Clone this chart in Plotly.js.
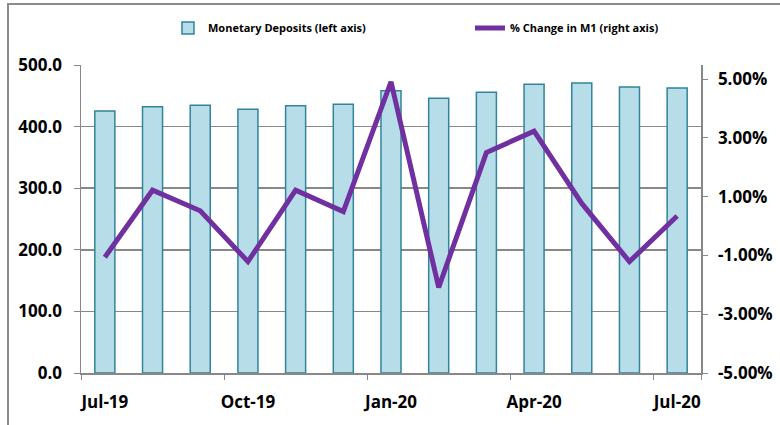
<!DOCTYPE html>
<html>
<head>
<meta charset="utf-8">
<script src="https://cdn.plot.ly/plotly-3.0.1.min.js"></script>
<style>
  body { margin: 0; background: #fff; }
  #frame { position: absolute; left: 7px; top: 3px; width: 800px; height: 440px;
           border-left: 2px solid #8c8c8c; border-top: 2px solid #8c8c8c; pointer-events: none; }
  #chart { position: absolute; left: 0; top: 0; width: 780px; height: 425px; }
</style>
</head>
<body>
<div id="chart"></div>
<div id="frame"></div>
<script>
// Months on the x axis
const months = ['Jul-19', 'Aug-19', 'Sep-19', 'Oct-19', 'Nov-19', 'Dec-19',
                'Jan-20', 'Feb-20', 'Mar-20', 'Apr-20', 'May-20', 'Jun-20', 'Jul-20'];

// Monetary deposits (left axis)
const deposits = [425.3, 432.3, 434.6, 428.1, 433.8, 436.2,
                  458.3, 445.9, 455.7, 468.7, 470.8, 464.3, 462.7];

// % change in M1 (right axis), in percent
const m1Change = [-1.06, 1.22, 0.52, -1.21, 1.22, 0.49,
                  4.91, -2.09, 2.50, 3.23, 0.77, -1.21, 0.34];

// Axis labels
const xTickVals = ['Jul-19', 'Oct-19', 'Jan-20', 'Apr-20', 'Jul-20'];
const rightTickVals = [-5, -3, -1, 1, 3, 5];
const rightTickText = ['-5.00%', '-3.00%', '-1.00%', '1.00%', '3.00%', '5.00%'];

const font = 'Open Sans, sans-serif';
const grey = '#888888';
const legendFont = { family: font, size: 11, color: '#000', weight: 'bold' };

const traces = [
    {
        x: months,
        y: deposits,
        type: 'bar',
        name: 'Monetary Deposits (left axis)',
        marker: { color: '#B7DEE8', line: { color: '#31849B', width: 1.5 } },
        yaxis: 'y',
        legend: 'legend'
    },
    {
        x: months,
        y: m1Change,
        type: 'scatter',
        mode: 'lines',
        name: '% Change in M1 (right axis)',
        line: { color: '#7030A0', width: 5 },
        yaxis: 'y2',
        legend: 'legend2'
    }
];

const layout = {
    width: 780,
    height: 425,
    margin: { l: 81, r: 79, t: 65, b: 52 },
    paper_bgcolor: 'rgba(0,0,0,0)',
    plot_bgcolor: 'rgba(0,0,0,0)',
    bargap: 0.58,
    showlegend: true,
    // one legend box per series so each entry sits where the reference puts it
    legend: {
        orientation: 'h',
        x: 0.1403, xanchor: 'left',
        y: 1.12, yanchor: 'middle',
        font: legendFont
    },
    legend2: {
        orientation: 'h',
        x: 0.6274, xanchor: 'left',
        y: 1.12, yanchor: 'middle',
        font: legendFont
    },
    xaxis: {
        type: 'category',
        tickmode: 'array',
        tickvals: xTickVals,
        tickson: 'boundaries',
        tickangle: 0,
        ticks: 'outside',
        ticklen: 5,
        tickcolor: grey,
        showline: true,
        linecolor: grey,
        linewidth: 1.5,
        showgrid: false,
        ticklabelstandoff: 13,
        tickfont: { family: font, size: 17, color: '#000', weight: 'bold' }
    },
    yaxis: {
        range: [0, 500],
        dtick: 100,
        tickformat: '.1f',
        ticks: 'outside',
        ticklen: 6,
        tickcolor: grey,
        showline: true,
        linecolor: grey,
        linewidth: 1.5,
        gridcolor: grey,
        gridwidth: 1.5,
        zeroline: false,
        ticklabelstandoff: 8,
        tickfont: { family: font, size: 17, color: '#000', weight: 'bold' }
    },
    yaxis2: {
        overlaying: 'y',
        side: 'right',
        range: [-5, 5.48],
        tickmode: 'array',
        tickvals: rightTickVals,
        ticktext: rightTickText,
        ticks: 'outside',
        ticklen: 5,
        tickcolor: grey,
        showline: true,
        linecolor: grey,
        linewidth: 1.5,
        showgrid: false,
        zeroline: false,
        ticklabelstandoff: 7,
        tickfont: { family: font, size: 17, color: '#000', weight: 'bold' }
    }
};

Plotly.newPlot('chart', traces, layout, { displayModeBar: false, staticPlot: true });
</script>
</body>
</html>
